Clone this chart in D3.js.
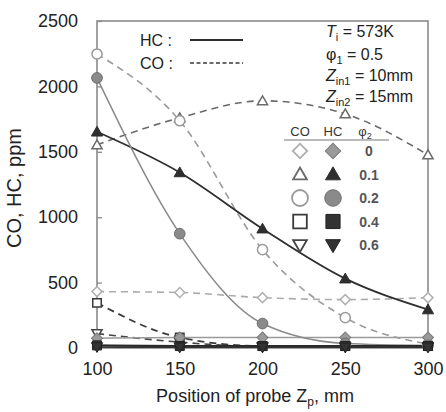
<!DOCTYPE html>
<html>
<head>
<meta charset="utf-8">
<script src="https://cdn.jsdelivr.net/npm/d3@7/dist/d3.min.js"></script>
<style>
  html, body { margin: 0; padding: 0; background: #fff; }
  svg { display: block; font-family: "Liberation Sans", Arial, sans-serif; }
</style>
</head>
<body>
<svg id="chart" width="446" height="412"></svg>
<script>
// ---- data ----
const positions = [100, 150, 200, 250, 300];
const phi2Labels = ["0", "0.1", "0.2", "0.4", "0.6"];
const coPhi0   = [431, 424, 385, 370, 385];
const coPhi01  = [1553, 1760, 1890, 1790, 1477];
const coPhi02  = [2248, 1737, 752, 232, 30];
const coPhi04  = [345, 80, 15, 15, 15];
const coPhi06  = [110, 45, 10, 10, 10];
const hcPhi0   = [75, 80, 80, 80, 80];
const hcPhi01  = [1653, 1342, 912, 530, 294];
const hcPhi02  = [2065, 874, 187, 35, 20];
const hcPhi04  = [20, 15, 15, 15, 15];
const hcPhi06  = [8, 5, 5, 5, 5];
const yTicks = [0, 500, 1000, 1500, 2000, 2500];
const xTicks = [100, 150, 200, 250, 300];

// ---- layout ----
const svg = d3.select("#chart");
const L = 97, R = 428, T = 21, B = 348;
const x = d3.scaleLinear().domain([100, 300]).range([L, R]);
const y = d3.scaleLinear().domain([0, 2500]).range([B, T]);

const sym = {
  diamond: d3.symbolSquare,
  triangle: d3.symbolTriangle,
  circle: d3.symbolCircle,
  square: d3.symbolSquare,
  invtri: d3.symbolTriangle
};
const symShapes = ["diamond", "triangle", "circle", "square", "invtri"];
// relative symbol areas so the shapes look equally big
const plotSize = {diamond: 50, triangle: 45, circle: 80, square: 72, invtri: 45};
const legSize  = {diamond: 105, triangle: 82, circle: 200, square: 185, invtri: 82};

const coSeries = [
  {v: coPhi0,  shape: "diamond",  stroke: "#b0b0b0", line: "#ababab", dash: "7,5", w: 1.6},
  {v: coPhi01, shape: "triangle", stroke: "#6a6a6a", line: "#6a6a6a", dash: "7,5", w: 1.6},
  {v: coPhi02, shape: "circle",   stroke: "#9a9a9a", line: "#9a9a9a", dash: "7,5", w: 1.6},
  {v: coPhi04, shape: "square",   stroke: "#3a3a3a", line: "#3a3a3a", dash: "7,5", w: 1.8},
  {v: coPhi06, shape: "invtri",   stroke: "#444",    line: "#444",    dash: "7,5", w: 1.6}
];
const hcSeries = [
  {v: hcPhi0,  shape: "diamond",  fill: "#9a9a9a", stroke: "#7a7a7a", line: "#9a9a9a", w: 1.5},
  {v: hcPhi01, shape: "triangle", fill: "#2e2e2e", stroke: "#2e2e2e", line: "#2e2e2e", w: 1.8},
  {v: hcPhi02, shape: "circle",   fill: "#8a8a8a", stroke: "#6e6e6e", line: "#8a8a8a", w: 1.5},
  {v: hcPhi04, shape: "square",   fill: "#333",    stroke: "#222",    line: "#2a2a2a", w: 2.2},
  {v: hcPhi06, shape: "invtri",   fill: "#333",    stroke: "#222",    line: "#333",    w: 1.5}
];

const line = d3.line().x((d, i) => x(positions[i])).y(d => y(d)).curve(d3.curveMonotoneX);

function symPath(shape, size) {
  return d3.symbol().type(sym[shape]).size(size)();
}
function symTransform(shape, cx, cy) {
  let t = `translate(${cx},${cy})`;
  if (shape === "diamond") t += " rotate(45)";
  if (shape === "invtri") t += " rotate(180)";
  if (shape === "triangle" || shape === "invtri") t += " translate(0,1)";
  return t;
}

// ---- frame ----
svg.append("rect").attr("x", L).attr("y", T).attr("width", R - L).attr("height", B - T)
  .attr("fill", "none").attr("stroke", "#8a8a8a").attr("stroke-width", 1.6);

// ---- axes ----
const gx = svg.append("g").attr("transform", `translate(0,${B})`)
  .call(d3.axisBottom(x).tickValues(xTicks).tickFormat(d3.format("d"))
    .tickSizeInner(-4).tickSizeOuter(0).tickPadding(14));
const gy = svg.append("g").attr("transform", `translate(${L},0)`)
  .call(d3.axisLeft(y).tickValues(yTicks).tickFormat(d3.format("d"))
    .tickSizeInner(-5).tickSizeOuter(0).tickPadding(19));
[gx, gy].forEach(g => {
  g.select(".domain").remove();
  g.selectAll("line").attr("stroke", "#8a8a8a").attr("stroke-width", 1.3);
  g.selectAll("text").attr("font-size", 18).attr("fill", "#222")
    .attr("font-family", "Liberation Sans, Arial, sans-serif");
});

// axis titles
const xt = svg.append("text").attr("x", 255).attr("y", 402).attr("text-anchor", "middle")
  .attr("font-size", 18).attr("fill", "#222");
xt.append("tspan").text("Position of probe ");
xt.append("tspan").text("Z");
xt.append("tspan").attr("font-size", 12).attr("dy", 4).text("p");
xt.append("tspan").attr("dy", -4).text(", mm");

svg.append("text").attr("transform", "translate(21,188) rotate(-90)").attr("text-anchor", "middle")
  .attr("font-size", 20).attr("fill", "#222").text("CO, HC, ppm");

// ---- lines ----
const plot = svg.append("g");
coSeries.forEach(s => {
  plot.append("path").attr("d", line(s.v)).attr("fill", "none")
    .attr("stroke", s.line).attr("stroke-width", s.w).attr("stroke-dasharray", s.dash);
});
hcSeries.forEach(s => {
  plot.append("path").attr("d", line(s.v)).attr("fill", "none")
    .attr("stroke", s.line).attr("stroke-width", s.w);
});

// ---- markers ----
coSeries.forEach(s => {
  s.v.forEach((d, i) => {
    plot.append("path").attr("d", symPath(s.shape, plotSize[s.shape]))
      .attr("transform", symTransform(s.shape, x(positions[i]), y(d)))
      .attr("fill", "#fff").attr("stroke", s.stroke).attr("stroke-width", 1.5);
  });
});
hcSeries.forEach(s => {
  s.v.forEach((d, i) => {
    plot.append("path").attr("d", symPath(s.shape, plotSize[s.shape] + 10))
      .attr("transform", symTransform(s.shape, x(positions[i]), y(d)))
      .attr("fill", s.fill).attr("stroke", s.stroke).attr("stroke-width", 1);
  });
});

// ---- line-style legend ----
const lg = svg.append("g").attr("font-size", 16).attr("fill", "#222");
lg.append("text").attr("x", 140).attr("y", 46).text("HC :");
lg.append("text").attr("x", 140).attr("y", 69).text("CO :");
svg.append("line").attr("x1", 190).attr("x2", 243).attr("y1", 40).attr("y2", 40)
  .attr("stroke", "#2e2e2e").attr("stroke-width", 2);
svg.append("line").attr("x1", 190).attr("x2", 243).attr("y1", 63).attr("y2", 63)
  .attr("stroke", "#3a3a3a").attr("stroke-width", 1.6).attr("stroke-dasharray", "4,2.5");

// ---- conditions text ----
const ct = svg.append("g").attr("font-size", 16).attr("fill", "#222");
const t1 = ct.append("text").attr("x", 326).attr("y", 37);
t1.append("tspan").attr("font-style", "italic").text("T");
t1.append("tspan").attr("font-size", 11).attr("dy", 4).text("i");
t1.append("tspan").attr("dy", -4).text(" = 573K");
const t2 = ct.append("text").attr("x", 326).attr("y", 60);
t2.append("tspan").text("φ");
t2.append("tspan").attr("font-size", 11).attr("dy", 4).text("1");
t2.append("tspan").attr("dy", -4).text(" = 0.5");
[["in1", "10mm", 81], ["in2", "15mm", 102]].forEach(([sub, val, yy]) => {
  const t = ct.append("text").attr("x", 326).attr("y", yy);
  t.append("tspan").attr("font-style", "italic").text("Z");
  t.append("tspan").attr("font-size", 11).attr("dy", 4).text(sub);
  t.append("tspan").attr("dy", -4).text(" = " + val);
});

// ---- symbol legend ----
const sl = svg.append("g");
const colCO = 300, colHC = 333, colPhi = 369;
sl.append("text").attr("x", colCO).attr("y", 136).attr("text-anchor", "middle")
  .attr("font-size", 13).attr("fill", "#333").text("CO");
sl.append("text").attr("x", colHC).attr("y", 136).attr("text-anchor", "middle")
  .attr("font-size", 13).attr("fill", "#333").text("HC");
const ph = sl.append("text").attr("x", colPhi - 4).attr("y", 136).attr("text-anchor", "middle")
  .attr("font-size", 13).attr("fill", "#333");
ph.append("tspan").text("φ");
ph.append("tspan").attr("font-size", 9).attr("dy", 3).text("2");
sl.append("line").attr("x1", 284).attr("x2", 389).attr("y1", 140).attr("y2", 140)
  .attr("stroke", "#777").attr("stroke-width", 1.2);
const rowY = [151, 174.5, 198, 221.5, 245];
phi2Labels.forEach((lab, i) => {
  const cs = coSeries[i], hs = hcSeries[i], shape = symShapes[i];
  sl.append("path").attr("d", symPath(shape, legSize[shape]))
    .attr("transform", symTransform(shape, colCO, rowY[i]))
    .attr("fill", "#fff").attr("stroke", cs.stroke).attr("stroke-width", 1.8);
  sl.append("path").attr("d", symPath(shape, legSize[shape] + 15))
    .attr("transform", symTransform(shape, colHC, rowY[i]))
    .attr("fill", hs.fill).attr("stroke", hs.stroke).attr("stroke-width", 1);
  sl.append("text").attr("x", colPhi).attr("y", rowY[i] + 5).attr("text-anchor", "middle")
    .attr("font-size", 14).attr("font-weight", "bold").attr("fill", "#555").text(lab);
});
</script>
</body>
</html>
